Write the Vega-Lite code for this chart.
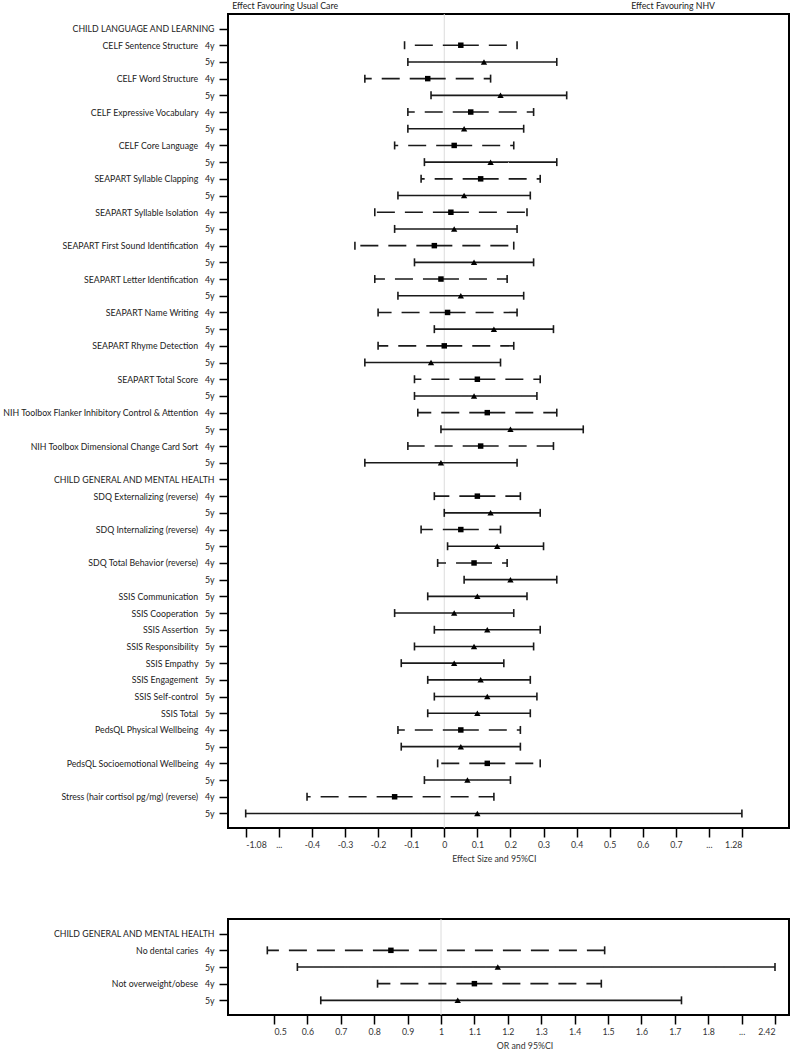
{
  "$schema": "https://vega.github.io/schema/vega-lite/v6.json",
  "background": "white",
  "padding": {"left": 0, "top": 0, "right": 0, "bottom": 0},
  "spacing": 52,
  "config": {
    "font": "Lato",
    "view": {"stroke": "black", "strokeWidth": 2},
    "axis": {
      "labelFont": "Lato", "labelFontSize": 8.75, "labelColor": "#333333", "labelOverlap": false,
      "titleFont": "Lato", "titleFontSize": 8.75, "titleFontWeight": "normal", "titleColor": "#333333",
      "tickColor": "black", "tickWidth": 1.5, "grid": false, "domain": false
    }
  },
  "datasets": {
    "effect": [
      {"row": 1, "key": "CHILD LANGUAGE AND LEARNING", "age": null, "est": null, "lo": null, "hi": null},
      {"row": 2, "key": "CELF Sentence Structure|4y", "age": "4y", "est": 0.05, "lo": -0.12, "hi": 0.22},
      {"row": 3, "key": "CELF Sentence Structure#5y", "age": "5y", "est": 0.12, "lo": -0.11, "hi": 0.34},
      {"row": 4, "key": "CELF Word Structure|4y", "age": "4y", "est": -0.05, "lo": -0.24, "hi": 0.14},
      {"row": 5, "key": "CELF Word Structure#5y", "age": "5y", "est": 0.17, "lo": -0.04, "hi": 0.37},
      {"row": 6, "key": "CELF Expressive Vocabulary|4y", "age": "4y", "est": 0.08, "lo": -0.11, "hi": 0.27},
      {"row": 7, "key": "CELF Expressive Vocabulary#5y", "age": "5y", "est": 0.06, "lo": -0.11, "hi": 0.24},
      {"row": 8, "key": "CELF Core Language|4y", "age": "4y", "est": 0.03, "lo": -0.15, "hi": 0.21},
      {"row": 9, "key": "CELF Core Language#5y", "age": "5y", "est": 0.14, "lo": -0.06, "hi": 0.34},
      {"row": 10, "key": "SEAPART Syllable Clapping|4y", "age": "4y", "est": 0.11, "lo": -0.07, "hi": 0.29},
      {"row": 11, "key": "SEAPART Syllable Clapping#5y", "age": "5y", "est": 0.06, "lo": -0.14, "hi": 0.26},
      {"row": 12, "key": "SEAPART Syllable Isolation|4y", "age": "4y", "est": 0.02, "lo": -0.21, "hi": 0.25},
      {"row": 13, "key": "SEAPART Syllable Isolation#5y", "age": "5y", "est": 0.03, "lo": -0.15, "hi": 0.22},
      {"row": 14, "key": "SEAPART First Sound Identification|4y", "age": "4y", "est": -0.03, "lo": -0.27, "hi": 0.21},
      {"row": 15, "key": "SEAPART First Sound Identification#5y", "age": "5y", "est": 0.09, "lo": -0.09, "hi": 0.27},
      {"row": 16, "key": "SEAPART Letter Identification|4y", "age": "4y", "est": -0.01, "lo": -0.21, "hi": 0.19},
      {"row": 17, "key": "SEAPART Letter Identification#5y", "age": "5y", "est": 0.05, "lo": -0.14, "hi": 0.24},
      {"row": 18, "key": "SEAPART Name Writing|4y", "age": "4y", "est": 0.01, "lo": -0.20, "hi": 0.22},
      {"row": 19, "key": "SEAPART Name Writing#5y", "age": "5y", "est": 0.15, "lo": -0.03, "hi": 0.33},
      {"row": 20, "key": "SEAPART Rhyme Detection|4y", "age": "4y", "est": 0.00, "lo": -0.20, "hi": 0.21},
      {"row": 21, "key": "SEAPART Rhyme Detection#5y", "age": "5y", "est": -0.04, "lo": -0.24, "hi": 0.17},
      {"row": 22, "key": "SEAPART Total Score|4y", "age": "4y", "est": 0.10, "lo": -0.09, "hi": 0.29},
      {"row": 23, "key": "SEAPART Total Score#5y", "age": "5y", "est": 0.09, "lo": -0.09, "hi": 0.28},
      {"row": 24, "key": "NIH Toolbox Flanker Inhibitory Control & Attention|4y", "age": "4y", "est": 0.13, "lo": -0.08, "hi": 0.34},
      {"row": 25, "key": "NIH Toolbox Flanker Inhibitory Control & Attention#5y", "age": "5y", "est": 0.20, "lo": -0.01, "hi": 0.42},
      {"row": 26, "key": "NIH Toolbox Dimensional Change Card Sort|4y", "age": "4y", "est": 0.11, "lo": -0.11, "hi": 0.33},
      {"row": 27, "key": "NIH Toolbox Dimensional Change Card Sort#5y", "age": "5y", "est": -0.01, "lo": -0.24, "hi": 0.22},
      {"row": 28, "key": "CHILD GENERAL AND MENTAL HEALTH", "age": null, "est": null, "lo": null, "hi": null},
      {"row": 29, "key": "SDQ Externalizing (reverse)|4y", "age": "4y", "est": 0.10, "lo": -0.03, "hi": 0.23},
      {"row": 30, "key": "SDQ Externalizing (reverse)#5y", "age": "5y", "est": 0.14, "lo": 0.00, "hi": 0.29},
      {"row": 31, "key": "SDQ Internalizing (reverse)|4y", "age": "4y", "est": 0.05, "lo": -0.07, "hi": 0.17},
      {"row": 32, "key": "SDQ Internalizing (reverse)#5y", "age": "5y", "est": 0.16, "lo": 0.01, "hi": 0.30},
      {"row": 33, "key": "SDQ Total Behavior (reverse)|4y", "age": "4y", "est": 0.09, "lo": -0.02, "hi": 0.19},
      {"row": 34, "key": "SDQ Total Behavior (reverse)#5y", "age": "5y", "est": 0.20, "lo": 0.06, "hi": 0.34},
      {"row": 35, "key": "SSIS Communication|5y", "age": "5y", "est": 0.10, "lo": -0.05, "hi": 0.25},
      {"row": 36, "key": "SSIS Cooperation|5y", "age": "5y", "est": 0.03, "lo": -0.15, "hi": 0.21},
      {"row": 37, "key": "SSIS Assertion|5y", "age": "5y", "est": 0.13, "lo": -0.03, "hi": 0.29},
      {"row": 38, "key": "SSIS Responsibility|5y", "age": "5y", "est": 0.09, "lo": -0.09, "hi": 0.27},
      {"row": 39, "key": "SSIS Empathy|5y", "age": "5y", "est": 0.03, "lo": -0.13, "hi": 0.18},
      {"row": 40, "key": "SSIS Engagement|5y", "age": "5y", "est": 0.11, "lo": -0.05, "hi": 0.26},
      {"row": 41, "key": "SSIS Self-control|5y", "age": "5y", "est": 0.13, "lo": -0.03, "hi": 0.28},
      {"row": 42, "key": "SSIS Total|5y", "age": "5y", "est": 0.10, "lo": -0.05, "hi": 0.26},
      {"row": 43, "key": "PedsQL Physical Wellbeing|4y", "age": "4y", "est": 0.05, "lo": -0.14, "hi": 0.23},
      {"row": 44, "key": "PedsQL Physical Wellbeing#5y", "age": "5y", "est": 0.05, "lo": -0.13, "hi": 0.23},
      {"row": 45, "key": "PedsQL Socioemotional Wellbeing|4y", "age": "4y", "est": 0.13, "lo": -0.02, "hi": 0.29},
      {"row": 46, "key": "PedsQL Socioemotional Wellbeing#5y", "age": "5y", "est": 0.07, "lo": -0.06, "hi": 0.20},
      {"row": 47, "key": "Stress (hair cortisol pg/mg) (reverse)|4y", "age": "4y", "est": -0.15, "lo": -0.45, "hi": 0.15},
      {"row": 48, "key": "Stress (hair cortisol pg/mg) (reverse)#5y", "age": "5y", "est": 0.10, "lo": -1.08, "hi": 1.28}
    ],
    "oddsratio": [
      {"row": 1, "key": "CHILD GENERAL AND MENTAL HEALTH", "age": null, "est": null, "lo": null, "hi": null},
      {"row": 2, "key": "No dental caries|4y", "age": "4y", "est": 0.85, "lo": 0.48, "hi": 1.49},
      {"row": 3, "key": "No dental caries#5y", "age": "5y", "est": 1.17, "lo": 0.57, "hi": 2.42},
      {"row": 4, "key": "Not overweight/obese|4y", "age": "4y", "est": 1.10, "lo": 0.81, "hi": 1.48},
      {"row": 5, "key": "Not overweight/obese#5y", "age": "5y", "est": 1.05, "lo": 0.64, "hi": 1.72}
    ]
  },
  "vconcat": [
    {
      "width": 561,
      "height": 814,
      "data": {"name": "effect"},
      "resolve": {"axis": {"x": "independent"}},
      "layer": [
        {
          "data": {"values": [{}]},
          "mark": {"type": "rule", "color": "#dcdcdc", "strokeWidth": 1},
          "encoding": {
            "x": {"datum": 0, "type": "quantitative",
              "scale": {"domain": [-1.08, -0.4, 0.7, 1.28], "range": [17.7, 83.9, 447.9, 513.9], "nice": false, "zero": false},
              "axis": {"orient": "top", "values": [-0.68, 0.69], "labelExpr": "datum.value < 0 ? 'Effect Favouring Usual Care' : 'Effect Favouring NHV'", "ticks": false, "title": null, "labelPadding": 4, "labelOverlap": false, "labelColor": "#222222"}}
          }
        },
        {
          "mark": {"type": "text", "text": ""},
          "encoding": {
            "y": {"field": "key", "type": "ordinal", "sort": {"field": "row", "op": "min"}, "scale": {"type": "point", "padding": 0.87},
              "axis": {"title": null, "tickSize": 9, "labelPadding": 5, "labelLimit": 600, "labelOverlap": false, "labelColor": "#222222", "labelExpr": "indexof(datum.value,'#')>=0 ? split(datum.value,'#')[1] : replace(datum.value,'|','\u00a0\u00a0\u00a0')"}}
          }
        },
        {
          "mark": {"type": "rule", "strokeWidth": 1.6, "color": "#1a1a1a"},
          "encoding": {
            "x": {"field": "est", "type": "quantitative",
              "scale": {"domain": [-1.08, -0.4, 0.7, 1.28], "range": [17.7, 83.9, 447.9, 513.9], "nice": false, "zero": false},
              "axis": {"orient": "bottom", "values": [-1.08, -0.74, -0.4, -0.3, -0.2, -0.1, 0, 0.1, 0.2, 0.3, 0.4, 0.5, 0.6, 0.7, 0.99, 1.28], "labelExpr": "datum.value == -0.74 || datum.value == 0.99 ? '...' : toString(datum.value)", "labelOverlap": false, "title": "Effect Size and 95%CI", "tickSize": 9, "labelPadding": 3, "titlePadding": 6}},
            "x2": {"field": "lo"},
            "y": {"field": "key", "type": "ordinal", "sort": {"field": "row", "op": "min"}, "scale": {"type": "point", "padding": 0.87}},
            "strokeDash": {"field": "age", "type": "nominal", "scale": {"domain": ["4y", "5y"], "range": [[18, 10], [1, 0]]}, "legend": null}
          }
        },
        {
          "mark": {"type": "rule", "strokeWidth": 1.6, "color": "#1a1a1a"},
          "encoding": {
            "x": {"field": "est", "type": "quantitative", "axis": null},
            "x2": {"field": "hi"},
            "y": {"field": "key", "type": "ordinal", "sort": {"field": "row", "op": "min"}, "scale": {"type": "point", "padding": 0.87}},
            "strokeDash": {"field": "age", "type": "nominal", "scale": {"domain": ["4y", "5y"], "range": [[18, 10], [1, 0]]}, "legend": null}
          }
        },
        {
          "mark": {"type": "tick", "orient": "vertical", "size": 8, "thickness": 1.6, "color": "#1a1a1a", "opacity": 1},
          "encoding": {
            "x": {"field": "lo", "type": "quantitative", "axis": null},
            "y": {"field": "key", "type": "ordinal", "sort": {"field": "row", "op": "min"}, "scale": {"type": "point", "padding": 0.87}}
          }
        },
        {
          "mark": {"type": "tick", "orient": "vertical", "size": 8, "thickness": 1.6, "color": "#1a1a1a", "opacity": 1},
          "encoding": {
            "x": {"field": "hi", "type": "quantitative", "axis": null},
            "y": {"field": "key", "type": "ordinal", "sort": {"field": "row", "op": "min"}, "scale": {"type": "point", "padding": 0.87}}
          }
        },
        {
          "mark": {"type": "point", "filled": true, "opacity": 1, "color": "black"},
          "encoding": {
            "x": {"field": "est", "type": "quantitative", "axis": null},
            "y": {"field": "key", "type": "ordinal", "sort": {"field": "row", "op": "min"}, "scale": {"type": "point", "padding": 0.87}},
            "shape": {"field": "age", "type": "nominal", "scale": {"domain": ["4y", "5y"], "range": ["square", "triangle-up"]}, "legend": null},
            "size": {"field": "age", "type": "nominal", "scale": {"domain": ["4y", "5y"], "range": [30, 40]}, "legend": null}
          }
        }
      ]
    },
    {
      "width": 561,
      "height": 96,
      "data": {"name": "oddsratio"},
      "resolve": {"axis": {"x": "independent"}},
      "layer": [
        {
          "data": {"values": [{}]},
          "mark": {"type": "rule", "color": "#dcdcdc", "strokeWidth": 1},
          "encoding": {
            "x": {"datum": 1, "type": "quantitative",
              "scale": {"domain": [0.5, 1.8, 2.42], "range": [46, 480.2, 547], "nice": false, "zero": false},
              "axis": {"orient": "bottom", "values": [0.5, 0.6, 0.7, 0.8, 0.9, 1, 1.1, 1.2, 1.3, 1.4, 1.5, 1.6, 1.7, 1.8, 2.11, 2.42], "labelExpr": "datum.value == 2.11 ? '...' : toString(datum.value)", "labelOverlap": false, "title": "OR and 95%CI", "tickSize": 9, "labelPadding": 3, "titlePadding": 6}}
          }
        },
        {
          "mark": {"type": "text", "text": ""},
          "encoding": {
            "y": {"field": "key", "type": "ordinal", "sort": {"field": "row", "op": "min"}, "scale": {"type": "point", "padding": 0.88},
              "axis": {"title": null, "tickSize": 9, "labelPadding": 5, "labelLimit": 600, "labelOverlap": false, "labelColor": "#222222", "labelExpr": "indexof(datum.value,'#')>=0 ? split(datum.value,'#')[1] : replace(datum.value,'|','\u00a0\u00a0\u00a0')"}}
          }
        },
        {
          "mark": {"type": "rule", "strokeWidth": 1.6, "color": "#1a1a1a"},
          "encoding": {
            "x": {"field": "est", "type": "quantitative", "axis": null},
            "x2": {"field": "lo"},
            "y": {"field": "key", "type": "ordinal", "sort": {"field": "row", "op": "min"}, "scale": {"type": "point", "padding": 0.88}},
            "strokeDash": {"field": "age", "type": "nominal", "scale": {"domain": ["4y", "5y"], "range": [[18, 10], [1, 0]]}, "legend": null}
          }
        },
        {
          "mark": {"type": "rule", "strokeWidth": 1.6, "color": "#1a1a1a"},
          "encoding": {
            "x": {"field": "est", "type": "quantitative", "axis": null},
            "x2": {"field": "hi"},
            "y": {"field": "key", "type": "ordinal", "sort": {"field": "row", "op": "min"}, "scale": {"type": "point", "padding": 0.88}},
            "strokeDash": {"field": "age", "type": "nominal", "scale": {"domain": ["4y", "5y"], "range": [[18, 10], [1, 0]]}, "legend": null}
          }
        },
        {
          "mark": {"type": "tick", "orient": "vertical", "size": 8, "thickness": 1.6, "color": "#1a1a1a", "opacity": 1},
          "encoding": {
            "x": {"field": "lo", "type": "quantitative", "axis": null},
            "y": {"field": "key", "type": "ordinal", "sort": {"field": "row", "op": "min"}, "scale": {"type": "point", "padding": 0.88}}
          }
        },
        {
          "mark": {"type": "tick", "orient": "vertical", "size": 8, "thickness": 1.6, "color": "#1a1a1a", "opacity": 1},
          "encoding": {
            "x": {"field": "hi", "type": "quantitative", "axis": null},
            "y": {"field": "key", "type": "ordinal", "sort": {"field": "row", "op": "min"}, "scale": {"type": "point", "padding": 0.88}}
          }
        },
        {
          "mark": {"type": "point", "filled": true, "opacity": 1, "color": "black"},
          "encoding": {
            "x": {"field": "est", "type": "quantitative", "axis": null},
            "y": {"field": "key", "type": "ordinal", "sort": {"field": "row", "op": "min"}, "scale": {"type": "point", "padding": 0.88}},
            "shape": {"field": "age", "type": "nominal", "scale": {"domain": ["4y", "5y"], "range": ["square", "triangle-up"]}, "legend": null},
            "size": {"field": "age", "type": "nominal", "scale": {"domain": ["4y", "5y"], "range": [30, 40]}, "legend": null}
          }
        }
      ]
    }
  ]
}
